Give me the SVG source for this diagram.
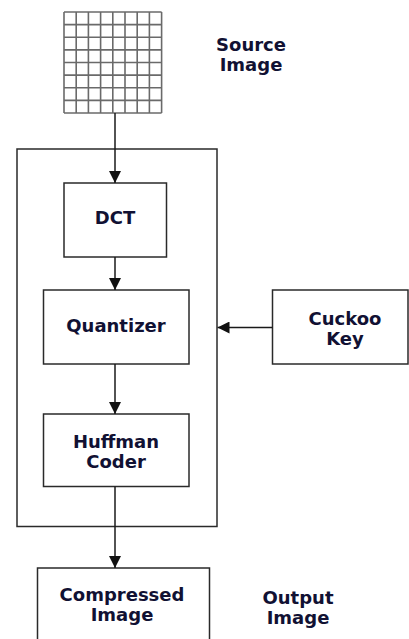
<svg xmlns="http://www.w3.org/2000/svg" width="409" height="639" viewBox="0 0 409 639">
  <defs>
    <style>
      .box { fill: #ffffff; stroke: #2a2a2a; stroke-width: 1.5; }
      .frame { fill: none; stroke: #2a2a2a; stroke-width: 1.5; }
      .link { fill: none; stroke: #1a1a1a; stroke-width: 1.5; }
      .grid line { stroke: #6a6a6a; stroke-width: 1.6; }
      .label { font-family: "DejaVu Sans", Verdana, sans-serif; font-weight: bold; font-size: 18px; fill: #111133; text-anchor: middle; }
    </style>
    <marker id="arrow" viewBox="0 0 12 12" refX="12" refY="6" markerWidth="12" markerHeight="12" markerUnits="userSpaceOnUse" orient="auto">
      <path d="M0,0 L12,6 L0,12 Z" fill="#111111"/>
    </marker>
  </defs>

  <rect width="409" height="639" fill="#ffffff"/>

  <!-- source image: 8x8 pixel block -->
  <g id="source-image">
    <g class="grid">
      <line x1="64" y1="12" x2="64" y2="113"/>
      <line x1="76.2" y1="12" x2="76.2" y2="113"/>
      <line x1="88.4" y1="12" x2="88.4" y2="113"/>
      <line x1="100.6" y1="12" x2="100.6" y2="113"/>
      <line x1="112.8" y1="12" x2="112.8" y2="113"/>
      <line x1="125" y1="12" x2="125" y2="113"/>
      <line x1="137.2" y1="12" x2="137.2" y2="113"/>
      <line x1="149.4" y1="12" x2="149.4" y2="113"/>
      <line x1="161.6" y1="12" x2="161.6" y2="113"/>
      <line x1="64" y1="12" x2="161.6" y2="12"/>
      <line x1="64" y1="24.6" x2="161.6" y2="24.6"/>
      <line x1="64" y1="37.2" x2="161.6" y2="37.2"/>
      <line x1="64" y1="49.9" x2="161.6" y2="49.9"/>
      <line x1="64" y1="62.5" x2="161.6" y2="62.5"/>
      <line x1="64" y1="75.1" x2="161.6" y2="75.1"/>
      <line x1="64" y1="87.7" x2="161.6" y2="87.7"/>
      <line x1="64" y1="100.4" x2="161.6" y2="100.4"/>
      <line x1="64" y1="113" x2="161.6" y2="113"/>
    </g>
    <text class="label" x="251" y="50.5">Source</text>
    <text class="label" x="251" y="70.5">Image</text>
  </g>

  <!-- encoder frame -->
  <g id="encoder">
    <rect class="frame" x="17" y="149" width="200" height="377.5"/>
  </g>

  <g id="dct">
    <rect class="box" x="64" y="183" width="102.5" height="74"/>
    <text class="label" x="115" y="224">DCT</text>
  </g>

  <g id="quantizer">
    <rect class="box" x="43.5" y="290" width="145.5" height="74"/>
    <text class="label" x="116" y="332">Quantizer</text>
  </g>

  <g id="cuckoo-key">
    <rect class="box" x="272.5" y="290" width="135.5" height="74"/>
    <text class="label" x="345" y="325">Cuckoo</text>
    <text class="label" x="345" y="345">Key</text>
  </g>

  <g id="huffman-coder">
    <rect class="box" x="43.5" y="414" width="145.5" height="72.5"/>
    <text class="label" x="116" y="447.5">Huffman</text>
    <text class="label" x="116" y="468">Coder</text>
  </g>

  <g id="compressed-image">
    <rect class="box" x="37.5" y="568" width="172" height="80"/>
    <text class="label" x="122" y="601">Compressed</text>
    <text class="label" x="122" y="621">Image</text>
  </g>

  <g id="output-image">
    <text class="label" x="298" y="603.5">Output</text>
    <text class="label" x="298" y="623.5">Image</text>
  </g>

  <!-- connectors -->
  <g id="connectors">
    <line class="link" x1="115" y1="113" x2="115" y2="183" marker-end="url(#arrow)"/>
    <line class="link" x1="115" y1="257" x2="115" y2="290" marker-end="url(#arrow)"/>
    <line class="link" x1="115" y1="364" x2="115" y2="414" marker-end="url(#arrow)"/>
    <line class="link" x1="115" y1="486.5" x2="115" y2="568" marker-end="url(#arrow)"/>
    <line class="link" x1="272.5" y1="327.5" x2="217.5" y2="327.5" marker-end="url(#arrow)"/>
  </g>
</svg>
